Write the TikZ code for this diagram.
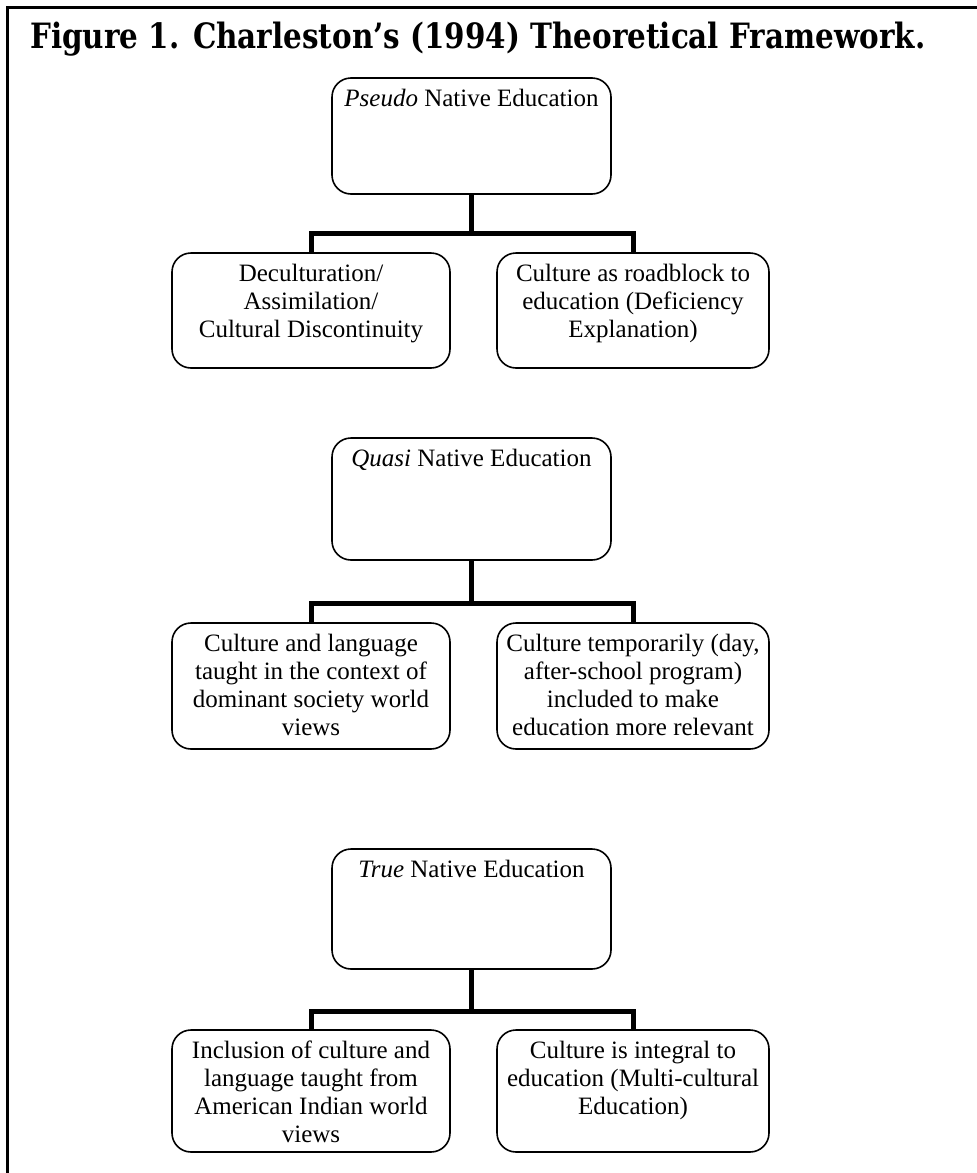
\documentclass[tikz,border=0pt]{standalone}
\usepackage{fontspec}
\setmainfont{Liberation Serif}
\newfontfamily\titlefont{DejaVu Serif}
\usepackage{graphicx}
\begin{document}
\begin{tikzpicture}[x=1pt,y=-1pt,
  frameline/.style={line width=3pt},
  boxshape/.style={draw, line width=1.6pt, rounded corners=19pt, inner sep=0pt},
  txt/.style={anchor=north, inner sep=0pt, align=center, font=\fontsize{25pt}{28pt}\selectfont},
  conn/.style={line width=5pt}
]
\useasboundingbox (0,0) rectangle (977,1173);
% frame
\coordinate (ftl) at (7,7);
\coordinate (ftr) at (977,7);
\coordinate (fbl) at (7,1173);
\draw[frameline] (fbl) -- (ftl) -- (ftr);
% title
\node[anchor=base west, inner sep=0pt] (title) at (30,48)
  {\resizebox{895pt}{26.5pt}{\titlefont\bfseries Figure 1. Charleston’s (1994) Theoretical Framework.}};

% ---------- row 1 ----------
\node[boxshape, minimum width=279pt, minimum height=116pt] (p1) at (471.5,136) {};
\node[txt] (p1t) at ([yshift=-8pt]p1.north) {\rule{0pt}{21pt}\textit{Pseudo} Native Education};
\node[boxshape, minimum width=278pt, minimum height=115pt] (c1) at (311,310.5) {};
\node[boxshape, minimum width=272pt, minimum height=115pt] (c2) at (633,310.5) {};
\node[txt] (c1t) at ([yshift=-8pt]c1.north) {\rule{0pt}{21pt}Deculturation/\\Assimilation/\\Cultural Discontinuity};
\node[txt] (c2t) at ([yshift=-8pt]c2.north) {\rule{0pt}{21pt}Culture as roadblock to\\education (Deficiency\\Explanation)};
\coordinate (b1) at (0,233);
\draw[conn] (p1.south) -- (p1.south |- b1);
\draw[conn] (c1.north) |- (c2.north |- b1) -- (c2.north);

% ---------- row 2 ----------
\node[boxshape, minimum width=279pt, minimum height=122pt] (p2) at (471.5,499) {};
\node[txt] (p2t) at ([yshift=-8pt]p2.north) {\rule{0pt}{21pt}\textit{Quasi} Native Education};
\node[boxshape, minimum width=278pt, minimum height=126pt] (c3) at (311,686) {};
\node[boxshape, minimum width=272pt, minimum height=126pt] (c4) at (633,686) {};
\node[txt] (c3t) at ([yshift=-8pt]c3.north) {\rule{0pt}{21pt}Culture and language\\taught in the context of\\dominant society world\\views};
\node[txt] (c4t) at ([yshift=-8pt]c4.north) {\rule{0pt}{21pt}Culture temporarily (day,\\after-school program)\\included to make\\education more relevant};
\coordinate (b2) at (0,603);
\draw[conn] (p2.south) -- (p2.south |- b2);
\draw[conn] (c3.north) |- (c4.north |- b2) -- (c4.north);

% ---------- row 3 ----------
\node[boxshape, minimum width=279pt, minimum height=120pt] (p3) at (471.5,909) {};
\node[txt] (p3t) at ([yshift=-8pt]p3.north) {\rule{0pt}{21pt}\textit{True} Native Education};
\node[boxshape, minimum width=278pt, minimum height=122pt] (c5) at (311,1091) {};
\node[boxshape, minimum width=272pt, minimum height=122pt] (c6) at (633,1091) {};
\node[txt] (c5t) at ([yshift=-8pt]c5.north) {\rule{0pt}{21pt}Inclusion of culture and\\language taught from\\American Indian world\\views};
\node[txt] (c6t) at ([yshift=-8pt]c6.north) {\rule{0pt}{21pt}Culture is integral to\\education (Multi-cultural\\Education)};
\coordinate (b3) at (0,1011);
\draw[conn] (p3.south) -- (p3.south |- b3);
\draw[conn] (c5.north) |- (c6.north |- b3) -- (c6.north);
\end{tikzpicture}
\end{document}
